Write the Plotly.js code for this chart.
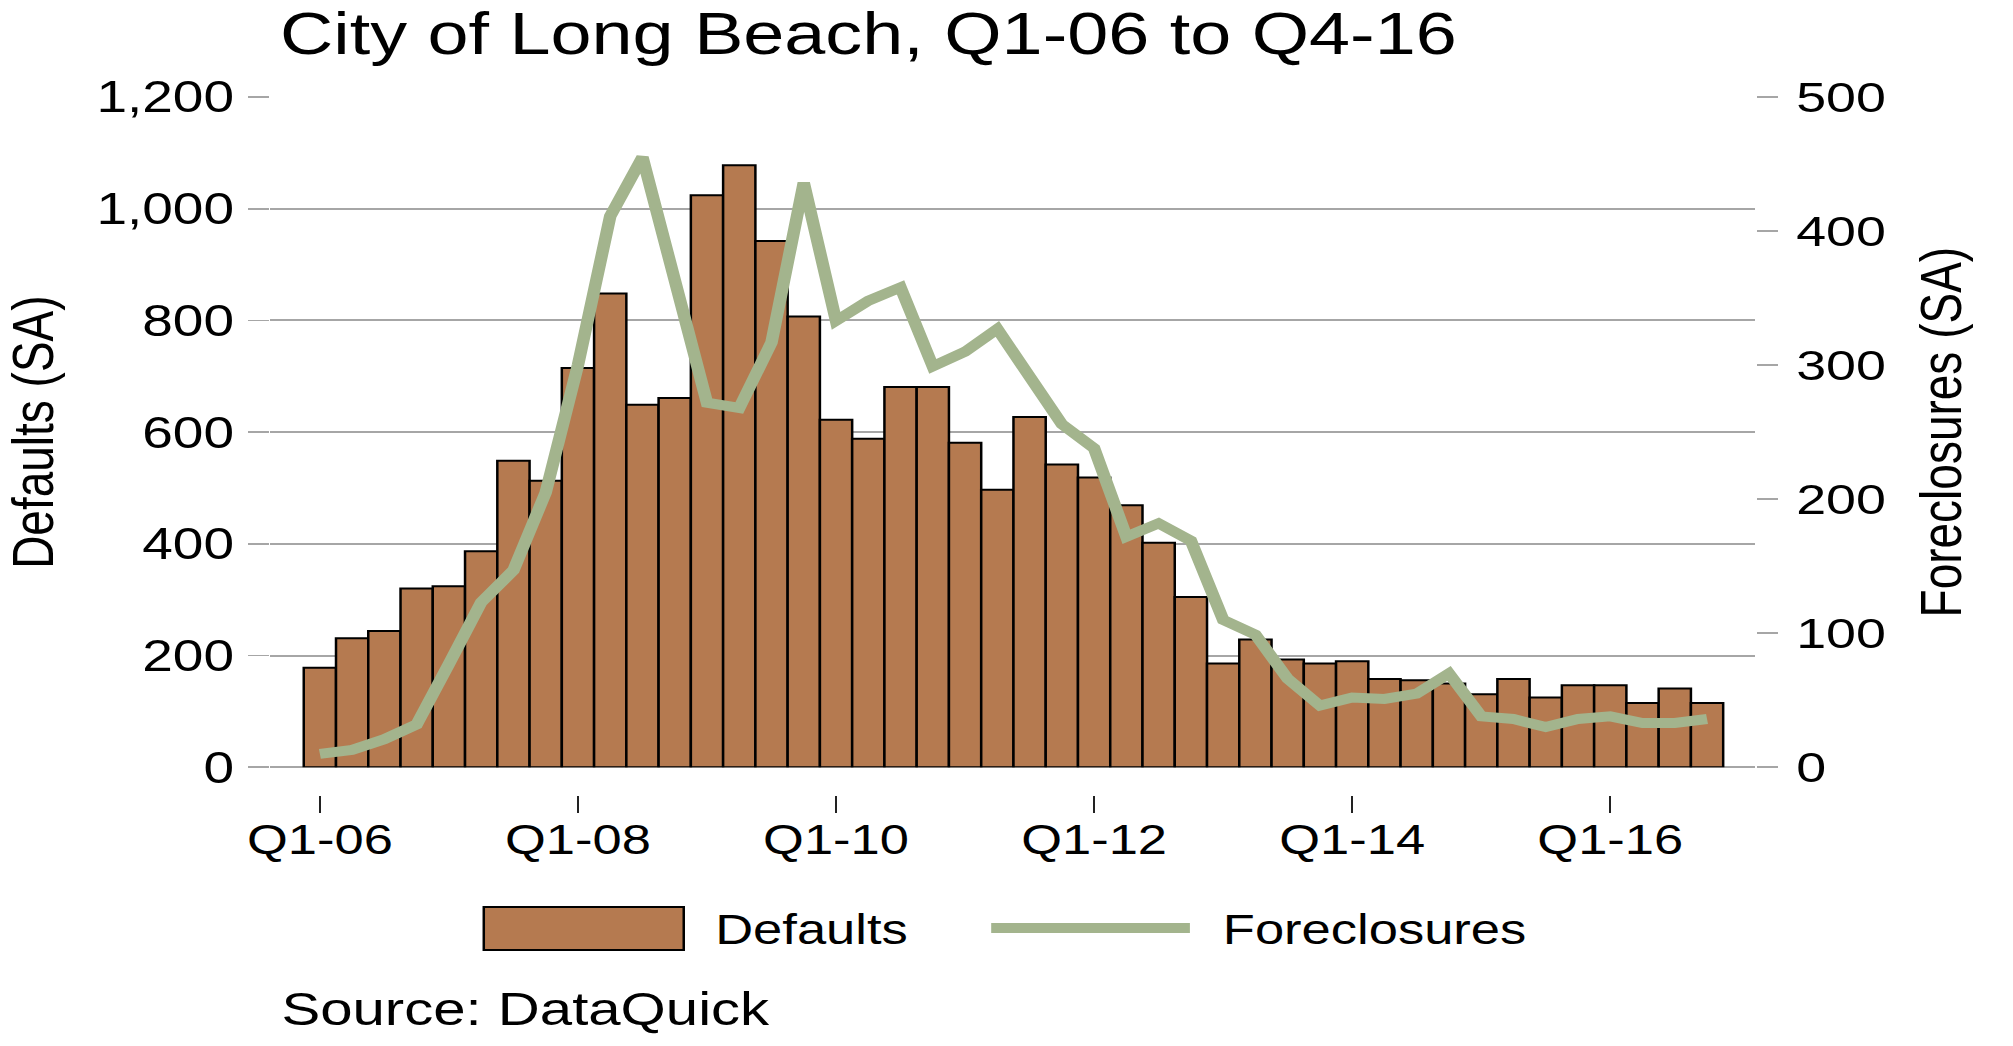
<!DOCTYPE html>
<html>
<head>
<meta charset="utf-8">
<script src="https://cdn.plot.ly/plotly-3.0.1.min.js"></script>
<style>
html,body{margin:0;padding:0;background:#fff;overflow:hidden;}
#chart{width:1610px;height:1046px;transform:scaleX(1.25031);transform-origin:0 0;}
</style>
</head>
<body>
<div id="chart"></div>
<script>
// ---- data ----
const quarters = [
  'Q1-06','Q2-06','Q3-06','Q4-06','Q1-07','Q2-07','Q3-07','Q4-07',
  'Q1-08','Q2-08','Q3-08','Q4-08','Q1-09','Q2-09','Q3-09','Q4-09',
  'Q1-10','Q2-10','Q3-10','Q4-10','Q1-11','Q2-11','Q3-11','Q4-11',
  'Q1-12','Q2-12','Q3-12','Q4-12','Q1-13','Q2-13','Q3-13','Q4-13',
  'Q1-14','Q2-14','Q3-14','Q4-14','Q1-15','Q2-15','Q3-15','Q4-15',
  'Q1-16','Q2-16','Q3-16','Q4-16'
];
const defaults = [
  178, 231, 244, 320, 324, 387, 549, 513,
  715, 848, 649, 661, 1024, 1078, 942, 807,
  622, 588, 681, 681, 581, 497, 627, 542,
  519, 469, 402, 305, 186, 229, 193, 186,
  190, 158, 156, 150, 131, 158, 125, 147,
  147, 115, 141, 115
];
const foreclosures = [
  10, 13, 21, 32, 77, 123, 147, 205,
  300, 411, 455, 360, 272, 268, 317, 436,
  333, 348, 358, 299, 310, 327, 290, 256,
  238, 172, 182, 169, 110, 99, 66, 46,
  52, 51, 55, 70, 38, 36, 30, 36,
  38, 33, 33, 36
];
const xTickLabels = ['Q1-06','Q1-08','Q1-10','Q1-12','Q1-14','Q1-16'];
const leftTicks = [0, 200, 400, 600, 800, 1000, 1200];
const rightTicks = [0, 100, 200, 300, 400, 500];

const titleText = 'City of Long Beach, Q1-06 to Q4-16';
const leftTitle = 'Defaults (SA)';
const rightTitle = 'Foreclosures (SA)';
const sourceText = 'Source: DataQuick';

// ---- styling ----
const barColor = '#b57a50';
const lineColor = '#a3b48d';
const gridColor = '#a6a6a6';
const FONT = '"Liberation Sans", Arial, Helvetica, sans-serif';

const W = 1610, H = 1046;
const M = {l: 216, r: 205.5, t: 97, b: 251};
const pw = W - M.l - M.r, ph = H - M.t - M.b;
const PX = px => (px - M.l) / pw;
const PY = py => (H - M.b - py) / ph;

const traces = [
  {
    type: 'bar', x: quarters, y: defaults, name: 'Defaults',
    marker: {color: barColor, line: {color: '#000', width: 2}},
    yaxis: 'y', xaxis: 'x', hoverinfo: 'skip'
  },
  {
    type: 'scatter', mode: 'lines', x: quarters, y: foreclosures, name: 'Foreclosures',
    line: {color: lineColor, width: 10},
    yaxis: 'y2', xaxis: 'x', hoverinfo: 'skip'
  }
];

const layout = {
  width: W, height: H,
  margin: M,
  paper_bgcolor: '#fff', plot_bgcolor: '#fff',
  showlegend: false,
  bargap: 0,
  font: {family: FONT, color: '#000'},
  title: {
    text: titleText,
    font: {family: FONT, size: 59, color: '#000'},
    xref: 'container', yref: 'container',
    x: 224 / W, xanchor: 'left',
    y: 1 - 33 / H, yanchor: 'middle'
  },
  xaxis: {
    type: 'category',
    range: [-1.544, 44.50],
    anchor: 'free', position: 0,
    showgrid: false, zeroline: false, showline: false,
    ticks: 'outside', ticklen: 17, tickwidth: 1.6, tickcolor: '#222',
    tickmode: 'array', tickvals: xTickLabels, ticktext: xTickLabels,
    tickfont: {family: FONT, size: 42, color: '#000'},
    ticklabelstandoff: -9
  },
  yaxis: {
    domain: [(795 - 767.3) / ph, 1],
    range: [0, 1200],
    tickmode: 'array', tickvals: leftTicks, tickformat: ',d',
    ticks: 'outside', ticklen: 17, tickwidth: 1.6, tickcolor: gridColor,
    showgrid: true, gridcolor: gridColor, gridwidth: 2,
    zeroline: true, zerolinecolor: gridColor, zerolinewidth: 2,
    showline: false,
    tickfont: {family: FONT, size: 44, color: '#000'},
    ticklabelstandoff: 2,
    title: {text: leftTitle, font: {family: FONT, size: 46, color: '#000'}, standoff: 38},
    automargin: false
  },
  yaxis2: {
    overlaying: 'y', side: 'right', anchor: 'x',
    range: [0, 500],
    tickmode: 'array', tickvals: rightTicks,
    ticks: 'outside', ticklen: 17, tickwidth: 1.6, tickcolor: gridColor,
    showgrid: false, zeroline: false, showline: false,
    tickfont: {family: FONT, size: 43, color: '#000'},
    ticklabelstandoff: 6,
    title: {text: rightTitle, font: {family: FONT, size: 46, color: '#000'}, standoff: 28},
    automargin: false
  },
  shapes: [
    // legend key: bar
    {type: 'rect', xref: 'paper', yref: 'paper',
     x0: PX(387), x1: PX(547), y0: PY(950), y1: PY(907),
     fillcolor: barColor, line: {color: '#000', width: 2}},
    // legend key: line
    {type: 'line', xref: 'paper', yref: 'paper',
     x0: PX(793), x1: PX(952), y0: PY(928), y1: PY(928),
     line: {color: lineColor, width: 10}}
  ],
  annotations: [
    {text: 'Defaults', xref: 'paper', yref: 'paper', x: PX(570), y: PY(929),
     xanchor: 'left', yanchor: 'middle', showarrow: false,
     font: {family: FONT, size: 42, color: '#000'}},
    {text: 'Foreclosures', xref: 'paper', yref: 'paper', x: PX(976), y: PY(929),
     xanchor: 'left', yanchor: 'middle', showarrow: false,
     font: {family: FONT, size: 42, color: '#000'}},
    {text: sourceText, xref: 'paper', yref: 'paper', x: PX(223), y: PY(1009),
     xanchor: 'left', yanchor: 'middle', showarrow: false,
     font: {family: FONT, size: 46.5, color: '#000'}}
  ]
};

Plotly.newPlot('chart', traces, layout, {staticPlot: true, displayModeBar: false, responsive: false});
</script>
</body>
</html>
